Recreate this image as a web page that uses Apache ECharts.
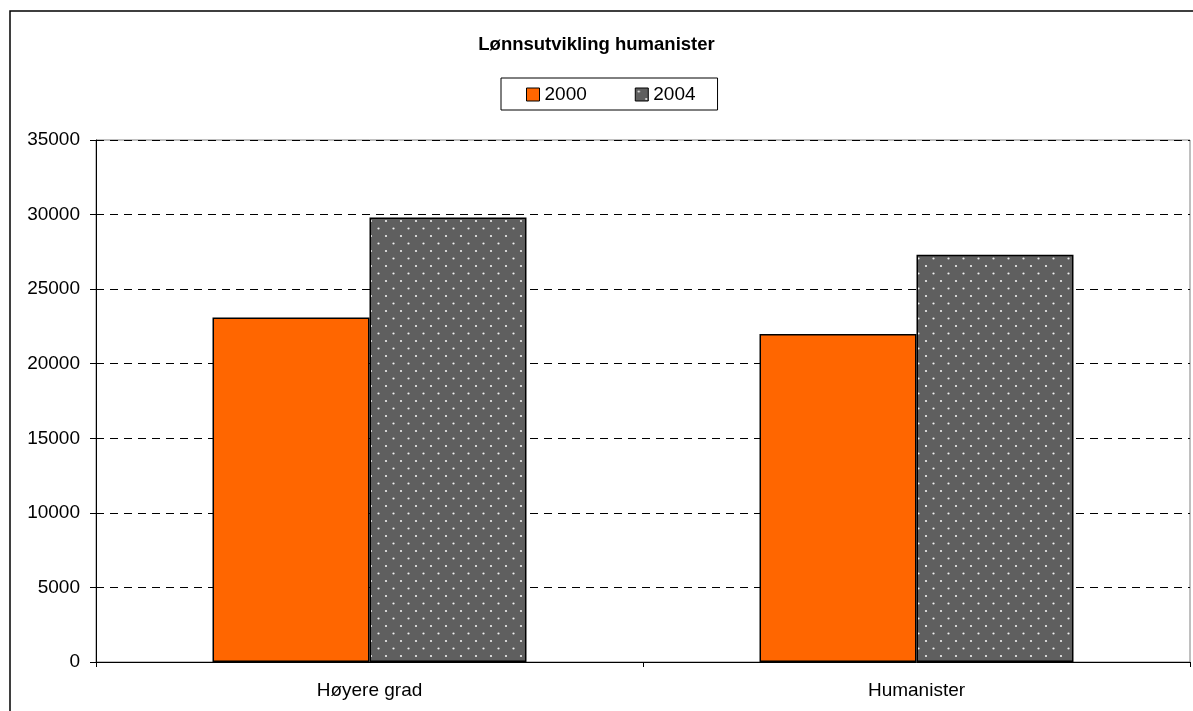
<!DOCTYPE html>
<html><head><meta charset="utf-8">
<script src="https://cdn.jsdelivr.net/npm/echarts@6/dist/echarts.min.js"></script>
<style>html,body{margin:0;padding:0;background:#fff;}#c{width:1193px;height:711px;}</style>
</head><body><div id="c"></div>
<script>
const categories = ['Høyere grad', 'Humanister'];
const seriesNames = ['2000', '2004'];
const values2000 = [23100, 22000];
const values2004 = [29800, 27300];
const titleText = 'Lønnsutvikling humanister';

// dotted pattern for 2004
const pc = document.createElement('canvas');
pc.width = 15; pc.height = 15;
const px = pc.getContext('2d');
px.fillStyle = '#5f5f5f'; px.fillRect(0,0,15,15);
px.fillStyle = '#f0f0f0';
px.beginPath(); px.arc(3.5,3.5,1.1,0,Math.PI*2); px.fill();
px.beginPath(); px.arc(11,11,1.1,0,Math.PI*2); px.fill();

const FF = '"Liberation Sans", Arial, sans-serif';
const chart = echarts.init(document.getElementById('c'), null, {renderer:'canvas'});
chart.setOption({
  animation: false,
  backgroundColor: '#fff',
  textStyle: {fontFamily: FF},
  title: {text: titleText, left: 'center', top: 30,
    textStyle: {fontFamily: FF, fontSize: 18.5, fontWeight: 'bold', color: '#000'}},
  legend: {
    data: seriesNames, top: 78, left: 501,
    padding: [7, 22, 6, 25],
    borderColor: '#000', borderWidth: 1,
    itemWidth: 13, itemHeight: 13, itemGap: 48,
    icon: 'rect',
    textStyle: {fontFamily: FF, fontSize: 19, lineHeight: 19, color: '#000'},
    itemStyle: {borderColor: '#000', borderWidth: 1}
  },
  graphic: [{type: 'rect', shape: {x: 10, y: 11, width: 1200, height: 720},
    style: {fill: 'none', stroke: '#000', lineWidth: 1.5}, silent: true, z: 100}],
  grid: {left: 96, right: 3, top: 140, bottom: 49, show: true, borderColor: '#808080', borderWidth: 1, backgroundColor: 'transparent'},
  xAxis: {
    type: 'category', data: categories,
    axisLine: {lineStyle: {color: '#000', width: 1}},
    axisTick: {show: true, length: 5, lineStyle: {color: '#000'}},
    axisLabel: {fontFamily: FF, fontSize: 19, color: '#000', margin: 19}
  },
  yAxis: {
    type: 'value', min: 0, max: 35000, interval: 5000,
    axisLine: {show: true, lineStyle: {color: '#000', width: 1}},
    axisTick: {show: true, length: 6, lineStyle: {color: '#000'}},
    axisLabel: {fontFamily: FF, fontSize: 19, color: '#000', margin: 16, formatter: v => String(v)},
    splitLine: {show: true, lineStyle: {color: '#000', type: [8, 6], width: 1}}
  },
  series: [
    {name: seriesNames[0], type: 'bar', data: values2000, barGap: '0%', barCategoryGap: '42.6%',
      itemStyle: {color: '#ff6600', borderColor: '#000', borderWidth: 1.5}},
    {name: seriesNames[1], type: 'bar', data: values2004,
      itemStyle: {color: {image: pc, repeat: 'repeat'}, borderColor: '#000', borderWidth: 1.5}}
  ]
});
</script></body></html>
